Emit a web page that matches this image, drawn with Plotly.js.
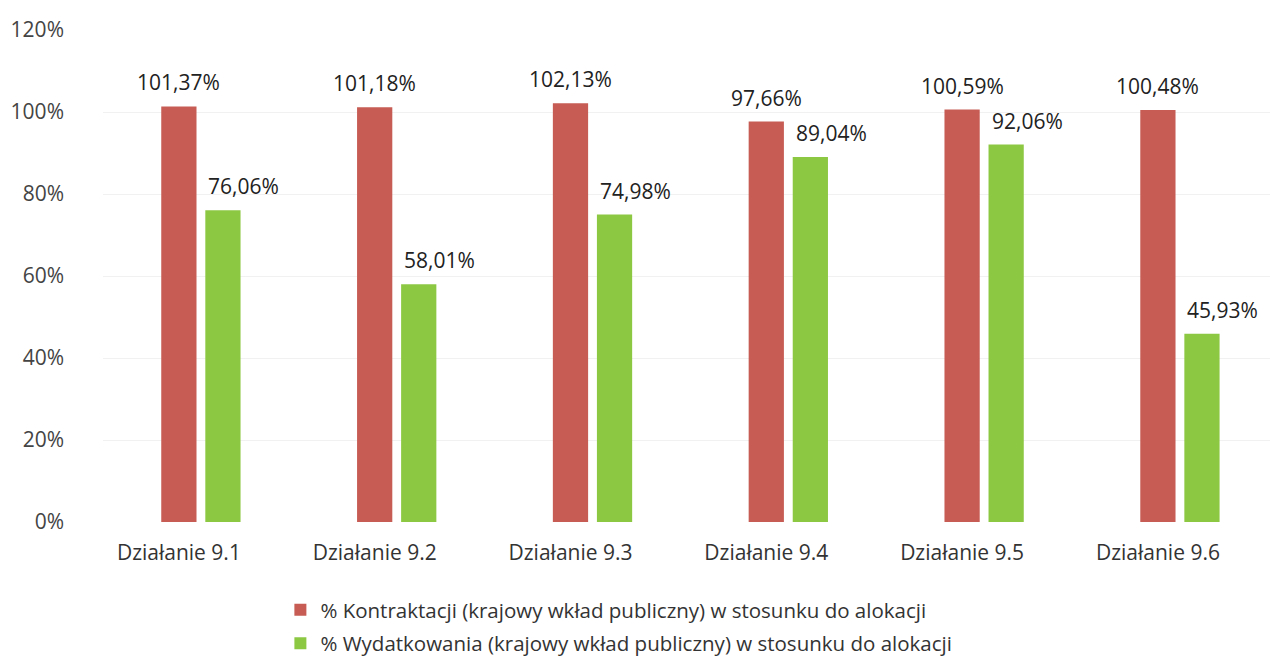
<!DOCTYPE html>
<html>
<head>
<meta charset="utf-8">
<script src="https://cdn.plot.ly/plotly-3.0.1.min.js"></script>
<style>html,body{margin:0;padding:0;background:#fff;}#chart{width:1270px;height:660px;}</style>
</head>
<body>
<div id="chart"></div>
<script>
const categories = ["Działanie 9.1", "Działanie 9.2", "Działanie 9.3", "Działanie 9.4", "Działanie 9.5", "Działanie 9.6"];
const kontraktacja = [101.37, 101.18, 102.13, 97.66, 100.59, 100.48];
const wydatkowanie = [76.06, 58.01, 74.98, 89.04, 92.06, 45.93];
const seriesNames = [
  "% Kontraktacji (krajowy wkład publiczny) w stosunku do alokacji",
  "% Wydatkowania (krajowy wkład publiczny) w stosunku do alokacji"
];
const yTicks = [0, 20, 40, 60, 80, 100, 120];

const fmt = v => v.toFixed(2).replace('.', ',') + '%';
const FONT = "'Open Sans', 'Noto Sans', sans-serif";

const traces = [
  {
    type: 'bar', x: categories, y: kontraktacja, name: seriesNames[0], legendgroup: 'a',
    marker: {color: '#c65c53'}
  },
  {
    type: 'bar', x: categories, y: wydatkowanie, name: seriesNames[1], legendgroup: 'b',
    marker: {color: '#8dc843'}
  }
];

const annotations = [];
categories.forEach((c, i) => {
  annotations.push({x: c, y: kontraktacja[i], xref: 'x', yref: 'y', text: fmt(kontraktacja[i]),
    showarrow: false, xanchor: 'center', yanchor: 'middle', xshift: -22, yshift: 24,
    font: {family: FONT, size: 21, color: '#222'}});
  annotations.push({x: c, y: wydatkowanie[i], xref: 'x', yref: 'y', text: fmt(wydatkowanie[i]),
    showarrow: false, xanchor: 'center', yanchor: 'middle', xshift: 43, yshift: 24,
    font: {family: FONT, size: 21, color: '#222'}});
});

const layout = {
  width: 1270, height: 660,
  margin: {l: 103, r: 0, t: 30, b: 138, autoexpand: false},
  paper_bgcolor: '#fff', plot_bgcolor: '#fff',
  font: {family: FONT, size: 18, color: '#333'},
  barmode: 'group', bargap: 0.55, bargroupgap: 0.2,
  annotations: annotations,
  xaxis: {
    range: [-0.5, 5.46], showgrid: false, zeroline: false, showline: false,
    ticks: '', ticklabelstandoff: 16, ticklabelshift: -22,
    tickfont: {family: FONT, size: 21, color: '#333'}
  },
  yaxis: {
    range: [0, 120], tickvals: yTicks, ticktext: yTicks.map(v => v + '%'),
    showgrid: true, gridcolor: '#f1f1f1', zeroline: false, showline: false,
    ticks: '', ticklabelstandoff: 38,
    tickfont: {family: FONT, size: 21, color: '#444'}
  },
  showlegend: true,
  legend: {
    orientation: 'v', x: 0.152, xanchor: 'left', y: -0.138, yanchor: 'top',
    font: {family: FONT, size: 20.5, color: '#333'},
    tracegroupgap: 4, itemwidth: 30
  }
};

Plotly.newPlot('chart', traces, layout, {displayModeBar: false, staticPlot: true});
</script>
</body>
</html>
